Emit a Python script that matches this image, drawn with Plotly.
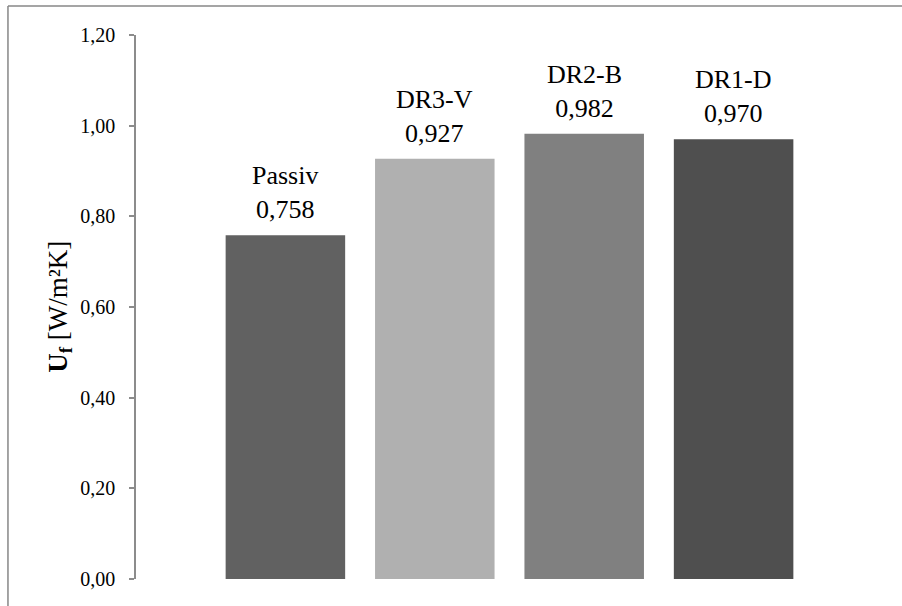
import plotly.graph_objects as go

# Frame U-values of the four window variants
categories = ["Passiv", "DR3-V", "DR2-B", "DR1-D"]
u_values = [0.758, 0.927, 0.982, 0.970]
bar_colors = ["#616161", "#b0b0b0", "#808080", "#4f4f4f"]
y_ticks = [0.0, 0.2, 0.4, 0.6, 0.8, 1.0, 1.2]

SERIF = "Times New Roman, Liberation Serif, serif"
AXIS_GREY = "#8c8c8c"


def fmt(v, digits):
    return f"{v:.{digits}f}".replace(".", ",")


fig = go.Figure(
    go.Bar(
        x=categories,
        y=u_values,
        marker=dict(color=bar_colors, line=dict(width=0)),
        hoverinfo="x+y",
    )
)

# Name and value above each bar
for cat, val in zip(categories, u_values):
    fig.add_annotation(
        x=cat, y=val, xref="x", yref="y",
        text=f"{cat}<br>{fmt(val, 3)}",
        showarrow=False, xanchor="center", yanchor="bottom", yshift=9,
        font=dict(family=SERIF, size=26, color="#000000"),
    )

# Rotated y-axis title
fig.add_annotation(
    x=-0.102, y=0.5, xref="paper", yref="paper",
    text="<b>U<sub>f</sub></b> [W/m²K]",
    textangle=-90, showarrow=False, xanchor="center", yanchor="middle",
    font=dict(family=SERIF, size=27, color="#000000"),
)

# Outer frame (top and left edges visible)
frame = dict(color="#878787", width=1.5)
fig.add_shape(type="line", xref="paper", yref="paper",
              x0=-0.1714, x1=1.1, y0=1.0533, y1=1.0533, line=frame)
fig.add_shape(type="line", xref="paper", yref="paper",
              x0=-0.1714, x1=-0.1714, y0=-0.1, y1=1.0533, line=frame)

fig.update_layout(
    width=902, height=606,
    margin=dict(l=136, r=19, t=35, b=27),
    paper_bgcolor="#ffffff", plot_bgcolor="#ffffff",
    separators=", ",
    bargap=0.2,
    showlegend=False,
    font=dict(family=SERIF, color="#000000"),
    xaxis=dict(
        type="category", range=[-1, 4],
        showticklabels=False, showline=False, showgrid=False,
        zeroline=False, ticks="", fixedrange=True,
    ),
    yaxis=dict(
        range=[0, 1.2], tickvals=y_ticks,
        ticktext=[fmt(t, 2) for t in y_ticks],
        ticks="outside", ticklen=5, tickwidth=1.5, tickcolor=AXIS_GREY,
        showline=True, linecolor=AXIS_GREY, linewidth=1.5,
        showgrid=False, zeroline=False, ticklabelstandoff=10,
        tickfont=dict(family=SERIF, size=20, color="#000000"),
    ),
)

fig.write_html("out.html")
